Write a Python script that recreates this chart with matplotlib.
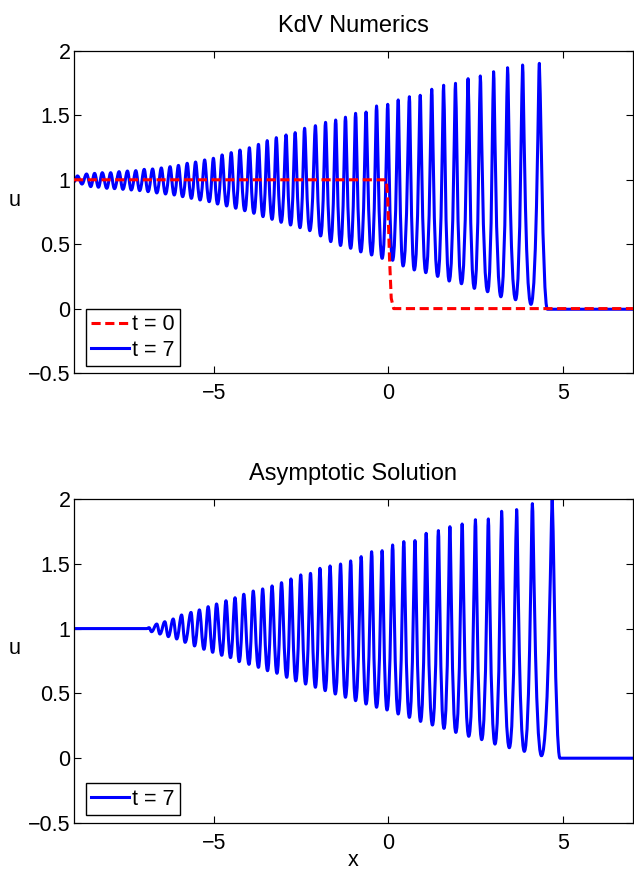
import numpy as np
import matplotlib.pyplot as plt
from matplotlib.path import Path
from matplotlib.patches import PathPatch

plt.rcParams['font.family'] = ['Liberation Sans', 'DejaVu Sans']

# ---- datos ----
# condicion inicial t = 0 (escalon suavizado)
t0_x = [-9.0, -0.06, -0.02, 0.03, 0.08, 0.15, 7.0]
t0_u = [1.0, 1.0, 0.85, 0.4, 0.08, 0.0, 0.0]

# KdV numerico t = 7: crestas y valles
num_peak_x = [-8.90, -8.64, -8.41, -8.19, -7.95, -7.71, -7.47, -7.23, -6.99, -6.75,
              -6.50, -6.25, -6.01, -5.76, -5.52, -5.26, -5.01, -4.76, -4.50, -4.25,
              -3.98, -3.72, -3.47, -3.21, -2.93, -2.67, -2.40, -2.09, -1.80, -1.51,
              -1.23, -0.94, -0.64, -0.34, -0.02, 0.28, 0.60, 0.91, 1.24, 1.58,
              1.92, 2.28, 2.63, 3.01, 3.41, 3.84, 4.32]
num_peak_u = [1.030, 1.045, 1.050, 1.055, 1.055, 1.063, 1.068, 1.071, 1.081, 1.084,
              1.092, 1.102, 1.112, 1.128, 1.138, 1.154, 1.167, 1.193, 1.211, 1.231,
              1.249, 1.275, 1.304, 1.327, 1.348, 1.366, 1.400, 1.420, 1.446, 1.464,
              1.486, 1.516, 1.526, 1.573, 1.586, 1.620, 1.645, 1.656, 1.703, 1.734,
              1.749, 1.785, 1.806, 1.839, 1.870, 1.891, 1.904]
num_trough_x = [-8.77, -8.52, -8.30, -8.06, -7.84, -7.60, -7.36, -7.12, -6.88, -6.63,
                -6.38, -6.13, -5.89, -5.64, -5.39, -5.13, -4.89, -4.63, -4.37, -4.11,
                -3.85, -3.59, -3.33, -3.07, -2.80, -2.53, -2.25, -1.94, -1.65, -1.37,
                -1.08, -0.79, -0.48, -0.18, 0.12, 0.42, 0.74, 1.07, 1.41, 1.74,
                2.09, 2.46, 2.84, 3.22, 3.64, 4.08]
num_trough_u = [0.967, 0.947, 0.942, 0.934, 0.931, 0.926, 0.921, 0.916, 0.908, 0.898,
                0.890, 0.882, 0.869, 0.856, 0.843, 0.830, 0.812, 0.797, 0.779, 0.760,
                0.740, 0.714, 0.693, 0.670, 0.649, 0.628, 0.605, 0.564, 0.520, 0.490,
                0.468, 0.440, 0.416, 0.390, 0.375, 0.331, 0.300, 0.279, 0.250, 0.214,
                0.193, 0.157, 0.131, 0.092, 0.069, 0.033]
num_left_x = [-9.0]
num_left_u = [0.986]
num_right_x = [4.55, 7.0]
num_right_u = [-0.005, -0.005]

# solucion asintotica t = 7
asy_peak_x = [-6.85, -6.63, -6.40, -6.16, -5.92, -5.65, -5.41, -5.16, -4.92, -4.65,
              -4.39, -4.14, -3.87, -3.60, -3.33, -3.06, -2.79, -2.51, -2.23, -1.96,
              -1.67, -1.37, -1.08, -0.78, -0.48, -0.18, 0.12, 0.44, 0.76, 1.08,
              1.43, 1.76, 2.11, 2.49, 2.86, 3.24, 3.67, 4.12, 4.69]
asy_peak_u = [1.007, 1.035, 1.053, 1.074, 1.105, 1.125, 1.144, 1.169, 1.190, 1.215,
              1.238, 1.265, 1.290, 1.306, 1.329, 1.354, 1.383, 1.414, 1.426, 1.465,
              1.483, 1.498, 1.522, 1.555, 1.593, 1.601, 1.645, 1.671, 1.679, 1.735,
              1.756, 1.786, 1.807, 1.840, 1.846, 1.905, 1.918, 1.964, 2.000]
asy_trough_x = [-6.78, -6.54, -6.30, -6.06, -5.82, -5.55, -5.28, -5.03, -4.77, -4.52,
                -4.27, -3.99, -3.72, -3.46, -3.19, -2.91, -2.65, -2.37, -2.09, -1.81,
                -1.52, -1.23, -0.94, -0.64, -0.34, -0.04, 0.28, 0.60, 0.92, 1.26,
                1.59, 1.93, 2.30, 2.67, 3.05, 3.46, 3.89, 4.38]
asy_trough_u = [0.976, 0.958, 0.938, 0.920, 0.894, 0.866, 0.840, 0.817, 0.794, 0.776,
                0.745, 0.724, 0.701, 0.675, 0.655, 0.624, 0.596, 0.572, 0.547, 0.521,
                0.495, 0.470, 0.444, 0.418, 0.393, 0.372, 0.341, 0.315, 0.284, 0.256,
                0.230, 0.199, 0.169, 0.143, 0.109, 0.081, 0.053, 0.019]
asy_left_x = [-9.0, -6.92]
asy_left_u = [1.0, 1.0]
asy_right_x = [4.91, 7.0]
asy_right_u = [0.0, 0.0]

x_ticks = [-5, 0, 5]
y_ticks = [-0.5, 0, 0.5, 1, 1.5, 2]
FS = 15.5
LW = 2.2


def wave_patch(left_x, left_u, peak_x, peak_u, trough_x, trough_u, right_x, right_u):
    # une crestas y valles con curvas de Bezier de tangente horizontal
    ext_x = np.concatenate([peak_x, trough_x])
    ext_u = np.concatenate([peak_u, trough_u])
    kind = np.array(['p'] * len(peak_x) + ['t'] * len(trough_x))
    order = np.argsort(ext_x)
    ext_x, ext_u, kind = ext_x[order], ext_u[order], kind[order]
    n = len(ext_x)
    s = np.arange(n) / (n - 1)
    hand = np.where(kind == 'p', 0.38 - 0.26 * s, 0.38 + 0.32 * s)

    xs = list(left_x) + list(ext_x) + list(right_x)
    us = list(left_u) + list(ext_u) + list(right_u)
    hs = [0.5] * len(left_x) + list(hand) + [0.6] * len(right_x)
    flat = [True] * len(left_x) + [False] * n + [True] * len(right_x)

    verts = [(xs[0], us[0])]
    codes = [Path.MOVETO]
    for i in range(1, len(xs)):
        x0, u0, x1, u1 = xs[i - 1], us[i - 1], xs[i], us[i]
        if flat[i - 1] and flat[i]:
            verts.append((x1, u1))
            codes.append(Path.LINETO)
        else:
            d = x1 - x0
            verts += [(x0 + hs[i - 1] * d, u0), (x1 - hs[i] * d, u1), (x1, u1)]
            codes += [Path.CURVE4] * 3
    return PathPatch(Path(verts, codes), facecolor='none', edgecolor='blue',
                     lw=LW, zorder=2, joinstyle='round', capstyle='round')


def style_axes(ax):
    ax.set_xlim(-9, 7)
    ax.set_ylim(-0.5, 2)
    ax.set_xticks(x_ticks)
    ax.set_yticks(y_ticks)
    ax.set_yticklabels(['\u22120.5', '0', '0.5', '1', '1.5', '2'])
    ax.tick_params(direction='in', top=True, right=True, length=5, width=0.8,
                   labelsize=FS)
    ax.tick_params(axis='x', pad=7)
    ax.tick_params(axis='y', pad=2.5)
    for sp in ax.spines.values():
        sp.set_linewidth(0.9)
    ax.set_ylabel('u', rotation=0, fontsize=FS, va='center', ha='center')
    ax.yaxis.set_label_coords(-0.1055, 0.537)


fig = plt.figure(figsize=(6.34, 8.76), dpi=100)
ax1 = fig.add_axes([0.1167, 0.5742, 0.8817, 0.3676])
ax2 = fig.add_axes([0.1167, 0.0605, 0.8817, 0.3699])

# --- KdV numerico ---
ax1.plot(t0_x, t0_u, color='red', lw=LW, linestyle=(0, (3.0, 1.5)), zorder=3,
         label='t = 0')
ax1.add_patch(wave_patch(num_left_x, num_left_u, num_peak_x, num_peak_u,
                         num_trough_x, num_trough_u, num_right_x, num_right_u))
ax1.plot([], [], color='blue', lw=LW, label='t = 7')
style_axes(ax1)
ax1.set_title('KdV Numerics', fontsize=17, pad=14)

# --- solucion asintotica ---
ax2.add_patch(wave_patch(asy_left_x, asy_left_u, asy_peak_x, asy_peak_u,
                         asy_trough_x, asy_trough_u, asy_right_x, asy_right_u))
ax2.plot([], [], color='blue', lw=LW, label='t = 7')
style_axes(ax2)
ax2.set_title('Asymptotic Solution', fontsize=17, pad=14)
ax2.set_xlabel('x', fontsize=FS)
ax2.xaxis.set_label_coords(0.5, -0.083)

for ax, dy in [(ax1, 7 / 322), (ax2, 8 / 324)]:
    leg = ax.legend(loc='lower left', bbox_to_anchor=(12 / 559, dy), borderaxespad=0,
                    fontsize=FS, handlelength=1.75, handletextpad=0.15,
                    labelspacing=0.2, borderpad=0.25, fancybox=False,
                    edgecolor='black', framealpha=1)
    leg.get_frame().set_linewidth(1.0)

fig.savefig('out.png', dpi=100)
